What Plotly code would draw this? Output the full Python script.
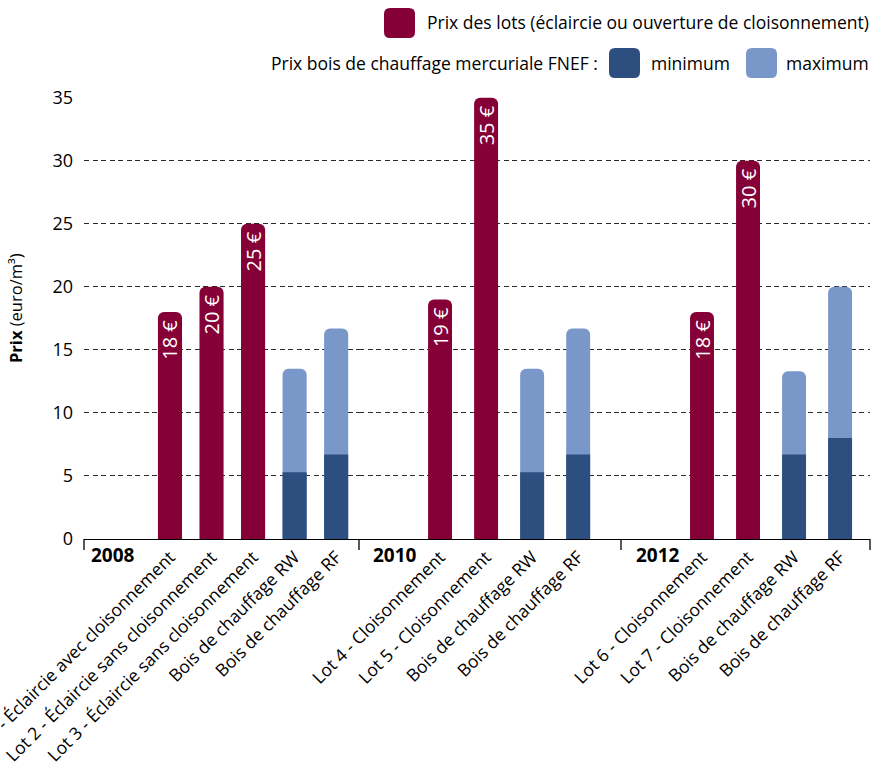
import plotly.graph_objects as go

# ---------------- data ----------------
years = ["2008", "2010", "2012"]

lots_2008 = ["Lot 1 - Éclaircie avec cloisonnement",
             "Lot 2 - Éclaircie sans cloisonnement",
             "Lot 3 - Éclaircie sans cloisonnement"]
lots_2008_prix = [18, 20, 25]

lots_2010 = ["Lot 4 - Cloisonnement", "Lot 5 - Cloisonnement"]
lots_2010_prix = [19, 35]

lots_2012 = ["Lot 6 - Cloisonnement", "Lot 7 - Cloisonnement"]
lots_2012_prix = [18, 30]

bois = ["Bois de chauffage RW", "Bois de chauffage RF"]
bois_2008_min = [5.3, 6.7]
bois_2008_max = [13.5, 16.7]
bois_2010_min = [5.3, 6.7]
bois_2010_max = [13.5, 16.7]
bois_2012_min = [6.7, 8.0]
bois_2012_max = [13.3, 20.0]

y_ticks = [0, 5, 10, 15, 20, 25, 30, 35]

legend_lots = "Prix des lots (éclaircie ou ouverture de cloisonnement)"
legend_bois = "Prix bois de chauffage mercuriale FNEF :"
legend_min = "minimum"
legend_max = "maximum"

# ---------------- style ----------------
MAROON = "#850036"
DARK = "#2d4f80"
LIGHT = "#7a97c9"
FONT = "Open Sans"
FS = 17.5
W, H = 881, 765
L, R, T, B = 84, 870, 97, 539  # plot area in pixels

def px(x):
    return (x - L) / (R - L)

def py(y):
    return (B - y) / (B - T)

groups = [
    dict(ax="x", lots=lots_2008, prix=lots_2008_prix, mn=bois_2008_min, mx=bois_2008_max,
         width=0.58, rng=[-2.07, 4.55], dom=[0, px(359)]),
    dict(ax="x2", lots=lots_2010, prix=lots_2010_prix, mn=bois_2010_min, mx=bois_2010_max,
         width=0.52, rng=[-1.76, 3.93], dom=[px(359), px(621)]),
    dict(ax="x3", lots=lots_2012, prix=lots_2012_prix, mn=bois_2012_min, mx=bois_2012_max,
         width=0.52, rng=[-1.76, 3.65], dom=[px(621), 1]),
]

fig = go.Figure()
layout_axes = {}
for i, g in enumerate(groups):
    cats = g["lots"] + bois
    # rounded maroon bars
    fig.add_trace(go.Bar(
        x=g["lots"], y=g["prix"], xaxis=g["ax"], yaxis="y",
        width=g["width"], marker=dict(color=MAROON, cornerradius=6, line=dict(width=0)),
        showlegend=False, hoverinfo="x+y"))
    # transparent twin carrying the value label (unscaled text)
    fig.add_trace(go.Bar(
        x=g["lots"], y=g["prix"], xaxis=g["ax"], yaxis="y",
        width=g["width"], marker=dict(color="rgba(0,0,0,0)", cornerradius=0, line=dict(width=0)),
        text=[f"{v} €\u00a0" for v in g["prix"]], textposition="inside",
        insidetextanchor="end", textangle=-90, constraintext="none",
        textfont=dict(color="white", size=20, family=FONT),
        showlegend=False, hoverinfo="skip"))
    fig.add_trace(go.Bar(
        x=bois, y=g["mx"], xaxis=g["ax"], yaxis="y", width=g["width"],
        marker=dict(color=LIGHT, cornerradius=6, line=dict(width=0)),
        showlegend=False))
    fig.add_trace(go.Bar(
        x=bois, y=g["mn"], xaxis=g["ax"], yaxis="y", width=g["width"],
        marker=dict(color=DARK, cornerradius=0, line=dict(width=0)),
        showlegend=False))
    name = "xaxis" if i == 0 else f"xaxis{i+1}"
    layout_axes[name] = dict(
        domain=g["dom"], anchor="y", type="category",
        categoryorder="array", categoryarray=cats, range=g["rng"],
        tickangle=-45, tickfont=dict(size=17.5, family=FONT, color="black"),
        showline=True, linecolor="black", linewidth=1.3, ticks="",
        showgrid=False, zeroline=False, fixedrange=True, automargin=False)

shapes = []
# group separators on the x axis
for xs in [L, 359, 621, R]:
    shapes.append(dict(type="line", xref="paper", yref="paper",
                       x0=px(xs), x1=px(xs), y0=0, y1=py(B + 11),
                       line=dict(color="black", width=1.3)))

def rounded(x0, y0, x1, y1, r, color):
    # rounded rectangle given in pixel coords -> paper coords path
    rx = r / (R - L)
    ry = r / (B - T)
    X0, X1 = px(x0), px(x1)
    Y0, Y1 = py(y1), py(y0)  # bottom, top in paper
    path = (f"M {X0+rx},{Y0} L {X1-rx},{Y0} Q {X1},{Y0} {X1},{Y0+ry} "
            f"L {X1},{Y1-ry} Q {X1},{Y1} {X1-rx},{Y1} L {X0+rx},{Y1} "
            f"Q {X0},{Y1} {X0},{Y1-ry} L {X0},{Y0+ry} Q {X0},{Y0} {X0+rx},{Y0} Z")
    return dict(type="path", xref="paper", yref="paper", path=path,
                fillcolor=color, line=dict(width=0))

shapes.append(rounded(384, 8, 415, 38, 6, MAROON))
shapes.append(rounded(609, 48, 640, 78, 6, DARK))
shapes.append(rounded(746, 48, 777, 78, 6, LIGHT))

annotations = [
    dict(text=legend_lots, xref="paper", yref="paper", x=px(871), y=py(22),
         xanchor="right", yanchor="middle", showarrow=False,
         font=dict(size=FS, family=FONT, color="black")),
    dict(text=legend_bois, xref="paper", yref="paper", x=px(600), y=py(63),
         xanchor="right", yanchor="middle", showarrow=False,
         font=dict(size=FS, family=FONT, color="black")),
    dict(text=legend_min, xref="paper", yref="paper", x=px(649), y=py(63),
         xanchor="left", yanchor="middle", showarrow=False,
         font=dict(size=FS, family=FONT, color="black")),
    dict(text=legend_max, xref="paper", yref="paper", x=px(871), y=py(63),
         xanchor="right", yanchor="middle", showarrow=False,
         font=dict(size=FS, family=FONT, color="black")),
    dict(text="<b>Prix</b> (euro/m³)", xref="paper", yref="paper",
         x=px(15), y=py(308), textangle=-90, xanchor="center", yanchor="middle",
         showarrow=False, font=dict(size=16.5, family=FONT, color="black")),
]
for yr, xl in zip(years, [89, 371, 634]):
    annotations.append(dict(text=f"<b>{yr}</b>", xref="paper", yref="paper",
                            x=px(xl), y=py(555), xanchor="left", yanchor="middle",
                            showarrow=False,
                            font=dict(size=19, family=FONT, color="black")))

fig.update_layout(
    width=W, height=H,
    margin=dict(l=L, r=W - R, t=T, b=H - B, pad=0, autoexpand=False),
    paper_bgcolor="white", plot_bgcolor="white",
    barmode="overlay",
    showlegend=False,
    font=dict(family=FONT, size=FS, color="black"),
    yaxis=dict(range=[0, 35.05], tickvals=y_ticks, ticks="",
               showgrid=True, gridcolor="#2a2a2a", gridwidth=1.2,
               griddash="5px,3.5px", zeroline=False, showline=False,
               ticklabelstandoff=10, automargin=False,
               tickfont=dict(size=18, family=FONT, color="black"),
               fixedrange=True),
    shapes=shapes, annotations=annotations,
    **layout_axes,
)

fig.write_html("out.html")
